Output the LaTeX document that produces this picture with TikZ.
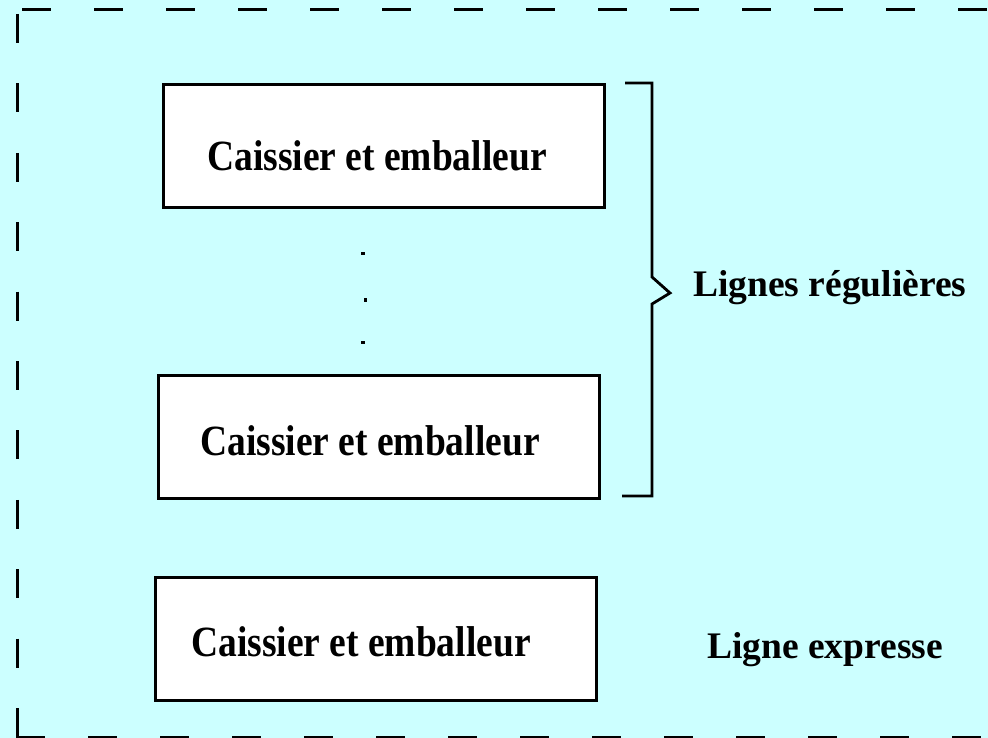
\documentclass[tikz,border=0pt]{standalone}
\usepackage{fontspec}
\setmainfont{Liberation Serif}
\begin{document}
\begin{tikzpicture}[x=1pt,y=-1pt,
  caisse/.style={draw=black,line width=2.6pt,fill=white,rectangle,inner sep=0pt,anchor=north west,minimum width=441pt,minimum height=123pt},
  lbl/.style={anchor=base west,inner sep=0pt,font=\fontsize{37.5}{40}\selectfont\bfseries},
  border/.style={line width=3pt},
  pt/.style={fill=black}]
\fill[fill={rgb,255:red,204;green,255;blue,255}] (0,0) rectangle (988,738);
\useasboundingbox (0,0) rectangle (988,738);
% dashed frame
\draw[border,dash pattern=on 29pt off 43pt] (22,10) -- (1000,10);
\draw[border,dash pattern=on 29pt off 40.4pt] (17,14) -- (17,745);
\draw[border,dash pattern=on 29pt off 43pt] (16,737) -- (1000,737);
% boxes
\node[caisse] (b1) at (162,83) {};
\node[caisse] (b2) at (157,374) {};
\node[caisse] (b3) at (154,576) {};
\node[lbl] (t1) at (207,171) {\scalebox{1}[1.15]{Caissier et emballeur}};
\node[lbl] (t2) at (200,455) {\scalebox{1}[1.15]{Caissier et emballeur}};
\node[lbl] (t3) at (191,656) {\scalebox{1}[1.15]{Caissier et emballeur}};
% dots
\fill[pt] (361,252.5) rectangle (365,255.5);
\fill[pt] (363.5,297.5) rectangle (366.5,301.5);
\fill[pt] (361,340.5) rectangle (365,343.5);
% bracket
\coordinate (bt) at (625,83);
\coordinate (bb) at (622,496);
\draw[line width=2.8pt] (bt) -- (652,83) -- (652,277) -- (670,293) -- (652,304) -- (652,496) -- (bb);
\node[lbl] (reg) at (693,296) {Lignes régulières};
\node[lbl] (exp) at (707,658) {Ligne expresse};
\end{tikzpicture}
\end{document}
